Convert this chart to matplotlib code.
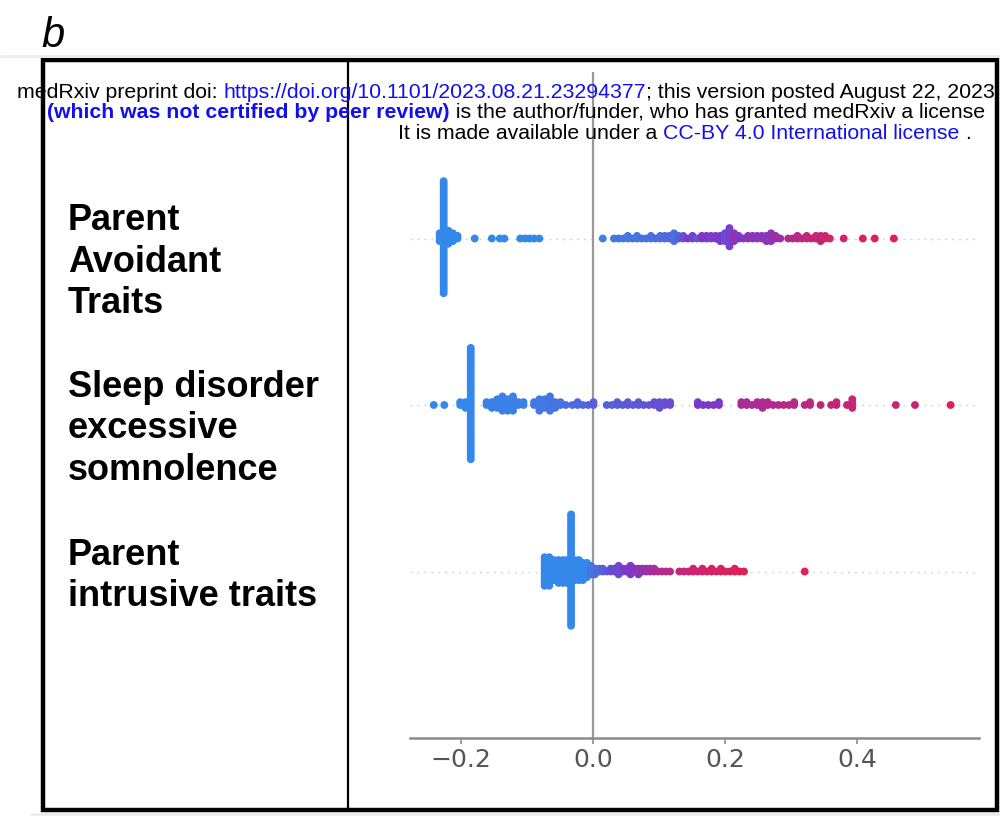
import matplotlib

matplotlib.use("Agg")
import matplotlib.pyplot as plt
import numpy as np
from matplotlib.colors import LinearSegmentedColormap
from matplotlib.patches import Rectangle

plt.rcParams["font.family"] = ["Liberation Sans", "DejaVu Sans"]

FEATURE_LINES = [
    ["Parent", "Avoidant", "Traits"],
    ["Sleep disorder", "excessive", "somnolence"],
    ["Parent", "intrusive traits"],
]
XTICKS = [-0.2, 0.0, 0.2, 0.4]

# SHAP value clusters: position, number of samples, feature value (0 low .. 1 high)
avoid_shap = [-0.232, -0.226, -0.219, -0.212, -0.205, -0.179, -0.153, -0.141, -0.134, -0.110, -0.103, -0.096, -0.089, -0.081,
              0.015, 0.032, 0.039, 0.046, 0.053, 0.060, 0.067, 0.074, 0.081, 0.088, 0.095, 0.102, 0.109, 0.116, 0.123, 0.130,
              0.137, 0.144, 0.151, 0.158, 0.165, 0.172, 0.179, 0.186, 0.193, 0.200, 0.207, 0.214,
              0.221, 0.228, 0.235, 0.242, 0.249, 0.256, 0.263, 0.270, 0.277, 0.284,
              0.296, 0.303, 0.310, 0.317, 0.324, 0.331, 0.338, 0.345, 0.352, 0.359,
              0.380, 0.409, 0.427, 0.456]
avoid_count = [4, 44, 6, 4, 2, 1, 1, 1, 1, 1, 1, 1, 1, 1,
               1, 1, 1, 1, 2, 1, 2, 1, 1, 2, 1, 2, 2, 2, 4, 2,
               2, 1, 2, 1, 2, 2, 2, 2, 3, 4, 8, 4,
               2, 1, 2, 2, 2, 2, 3, 4, 2, 1,
               1, 1, 2, 1, 2, 1, 2, 3, 2, 1,
               1, 1, 1, 1]
avoid_value = [0, 0, 0, 0, 0, 0, 0, 0, 0, 0, 0, 0, 0, 0,
               0.05, 0.1, 0.1, 0.1, 0.1, 0.15, 0.1, 0.15, 0.15, 0.15, 0.2, 0.15, 0.2, 0.2, 0.15, 0.25,
               0.35, 0.5, 0.45, 0.3, 0.55, 0.5, 0.45, 0.55, 0.5, 0.35, 0.45, 0.6,
               0.5, 0.55, 0.6, 0.55, 0.6, 0.55, 0.6, 0.6, 0.65, 0.65,
               0.8, 0.75, 0.8, 0.8, 0.85, 0.85, 0.9, 0.85, 0.9, 0.95,
               0.9, 1.0, 1.0, 1.0]

sleep_shap = [-0.241, -0.225, -0.201, -0.193, -0.185,
              -0.161, -0.153, -0.145, -0.137, -0.129, -0.121, -0.113, -0.105,
              -0.089, -0.081, -0.073, -0.065, -0.057, -0.049, -0.041,
              -0.031, -0.023, -0.015, -0.007, 0.001,
              0.021, 0.029, 0.037, 0.045, 0.053, 0.061, 0.069, 0.077, 0.085, 0.093, 0.101, 0.109, 0.117,
              0.159, 0.167, 0.175, 0.183, 0.191,
              0.225, 0.233, 0.241, 0.249, 0.257, 0.265, 0.273, 0.281, 0.289, 0.297, 0.305, 0.321, 0.329,
              0.345, 0.361, 0.369, 0.385, 0.393,
              0.459, 0.488, 0.542]
sleep_count = [1, 1, 2, 3, 40,
               2, 3, 4, 6, 5, 6, 2, 2,
               2, 5, 4, 6, 3, 2, 1,
               1, 2, 1, 1, 2,
               1, 1, 2, 1, 2, 1, 2, 1, 1, 2, 3, 2, 2,
               2, 1, 1, 1, 2,
               2, 2, 1, 2, 3, 2, 1, 1, 1, 1, 2, 1, 2,
               1, 1, 2, 1, 4,
               1, 1, 1]
sleep_value = [0, 0, 0, 0, 0,
               0.05, 0.05, 0.05, 0.05, 0.05, 0.05, 0.05, 0.05,
               0.1, 0.1, 0.1, 0.12, 0.12, 0.12, 0.15,
               0.2, 0.2, 0.22, 0.22, 0.25,
               0.25, 0.25, 0.28, 0.28, 0.3, 0.3, 0.3, 0.32, 0.32, 0.35, 0.35, 0.35, 0.38,
               0.5, 0.5, 0.5, 0.52, 0.52,
               0.72, 0.72, 0.74, 0.74, 0.75, 0.76, 0.76, 0.78, 0.78, 0.8, 0.8, 0.8, 0.82,
               0.82, 0.84, 0.84, 0.85, 0.86,
               0.85, 0.9, 1.0]

intr_shap = [-0.073, -0.066, -0.059, -0.052, -0.045, -0.039, -0.033, -0.027, -0.021, -0.015, -0.009, -0.003,
             0.003, 0.009, 0.015, 0.021, 0.027, 0.033, 0.039, 0.045, 0.051, 0.057, 0.063, 0.069, 0.075, 0.081,
             0.087, 0.093, 0.099, 0.105, 0.111, 0.117,
             0.131, 0.138, 0.145, 0.152, 0.159, 0.166, 0.173, 0.180, 0.187, 0.194, 0.201, 0.208, 0.215, 0.222, 0.229,
             0.321]
intr_count = [11, 11, 8, 9, 9, 9, 40, 8, 8, 7, 6, 4,
              3, 2, 2, 1, 2, 2, 4, 2, 2, 4, 2, 3, 2, 2,
              2, 2, 1, 1, 1, 1,
              1, 1, 1, 2, 1, 2, 1, 2, 1, 2, 1, 1, 2, 1, 1,
              1]
intr_value = [0, 0, 0, 0, 0, 0, 0, 0, 0, 0, 0, 0.1,
              0.15, 0.2, 0.25, 0.3, 0.35, 0.4, 0.4, 0.45, 0.5, 0.5, 0.55, 0.6, 0.6, 0.65,
              0.7, 0.7, 0.75, 0.75, 0.8, 0.8,
              0.85, 0.85, 0.9, 0.9, 0.9, 0.92, 0.92, 0.94, 0.94, 0.95, 0.96, 0.97, 0.98, 1.0, 1.0,
              1.0]

ROWS = [
    (avoid_shap, avoid_count, avoid_value),
    (sleep_shap, sleep_count, sleep_value),
    (intr_shap, intr_count, intr_value),
]

shap_cmap = LinearSegmentedColormap.from_list("shap_red_blue", ["#3388ea", "#7b38cb", "#e01f57"])


def beeswarm_offsets(shaps, nbins=100, row_height=0.4):
    # same binning/stacking as shap's summary_plot
    quant = np.round(nbins * (shaps - shaps.min()) / (shaps.max() - shaps.min() + 1e-8))
    ys = np.zeros(len(shaps))
    layer = 0
    last_bin = -1
    for ind in np.argsort(quant, kind="stable"):
        if quant[ind] != last_bin:
            layer = 0
        ys[ind] = np.ceil(layer / 2) * ((layer % 2) * 2 - 1)
        layer += 1
        last_bin = quant[ind]
    return ys * 0.9 * (row_height / np.max(ys + 1))


fig = plt.figure(figsize=(10, 8.21), dpi=100)
ax = fig.add_axes([0.41, 83 / 821, 0.569, 666 / 821])

n_rows = len(ROWS)
for i, (vals, counts, feats) in enumerate(ROWS):
    pos = n_rows - 1 - i
    shaps = np.repeat(np.array(vals), counts)
    fvals = np.repeat(np.array(feats), counts)
    ys = beeswarm_offsets(shaps)
    ax.axhline(pos, color="#d5d5d5", lw=1.0, dashes=(1.5, 3.5), zorder=-1)
    ax.scatter(shaps, pos + ys, c=fvals, cmap=shap_cmap, vmin=0, vmax=1, s=32, linewidth=0, zorder=3)

ax.axvline(0, color="#999999", lw=1.6, zorder=-1)
ax.set_xlim(-0.277, 0.585)
ax.set_ylim(-1, n_rows)
ax.set_yticks([])
ax.set_xticks(XTICKS)
ax.set_xticklabels([f"{t:.1f}".replace("-", "\u2212") for t in XTICKS], fontfamily="DejaVu Sans")
for side in ("top", "right", "left"):
    ax.spines[side].set_visible(False)
ax.spines["bottom"].set_color("#8a8a8a")
ax.spines["bottom"].set_linewidth(1.8)
ax.tick_params(axis="x", labelsize=18, labelcolor="#555555", color="#8a8a8a", width=1.2, length=4)

# overlay in pixel units for the frame, labels and preprint header
over = fig.add_axes([0, 0, 1, 1], zorder=5)
over.set_xlim(0, 1000)
over.set_ylim(821, 0)
over.axis("off")

over.plot([0, 1000], [56, 56], color="#ededed", lw=2, solid_capstyle="butt")
over.plot([30, 1000], [814, 814], color="#ededed", lw=2, solid_capstyle="butt")
over.add_patch(Rectangle((43, 60), 954, 750, fill=False, ec="black", lw=3.2))
over.plot([348, 348], [60, 810], color="black", lw=1.6)

over.text(41, 47, "b", fontsize=30, fontstyle="italic", va="baseline")

first_baselines = [230, 397, 565]
for lines, base in zip(FEATURE_LINES, first_baselines):
    for k, line in enumerate(lines):
        over.text(68, base + k * 41.5, line, fontsize=26, fontweight="bold", va="baseline")

HEAD_SIZE = 15.3
BLUE = "#1010ee"
header = [
    (17, 98, [("medRxiv preprint doi: ", "black", "normal"),
              ("https://doi.org/10.1101/2023.08.21.23294377", BLUE, "normal"),
              ("; this version posted August 22, 2023", "black", "normal")]),
    (47, 118.5, [("(which was not certified by peer review)", BLUE, "bold"),
                 (" is the author/funder, who has granted medRxiv a license", "black", "normal")]),
    (398, 139, [("It is made available under a ", "black", "normal"),
                ("CC-BY 4.0 International license", BLUE, "normal"),
                (" .", "black", "normal")]),
]
for x, y, pieces in header:
    prev = None
    for s, color, weight in pieces:
        if prev is None:
            prev = over.text(x, y, s, color=color, fontweight=weight, fontsize=HEAD_SIZE, va="baseline")
        else:
            prev = over.annotate(s, xy=(1, 0), xycoords=prev, va="bottom", ha="left",
                                 color=color, fontweight=weight, fontsize=HEAD_SIZE, annotation_clip=False)

fig.savefig("out.png", dpi=100)
plt.close(fig)
